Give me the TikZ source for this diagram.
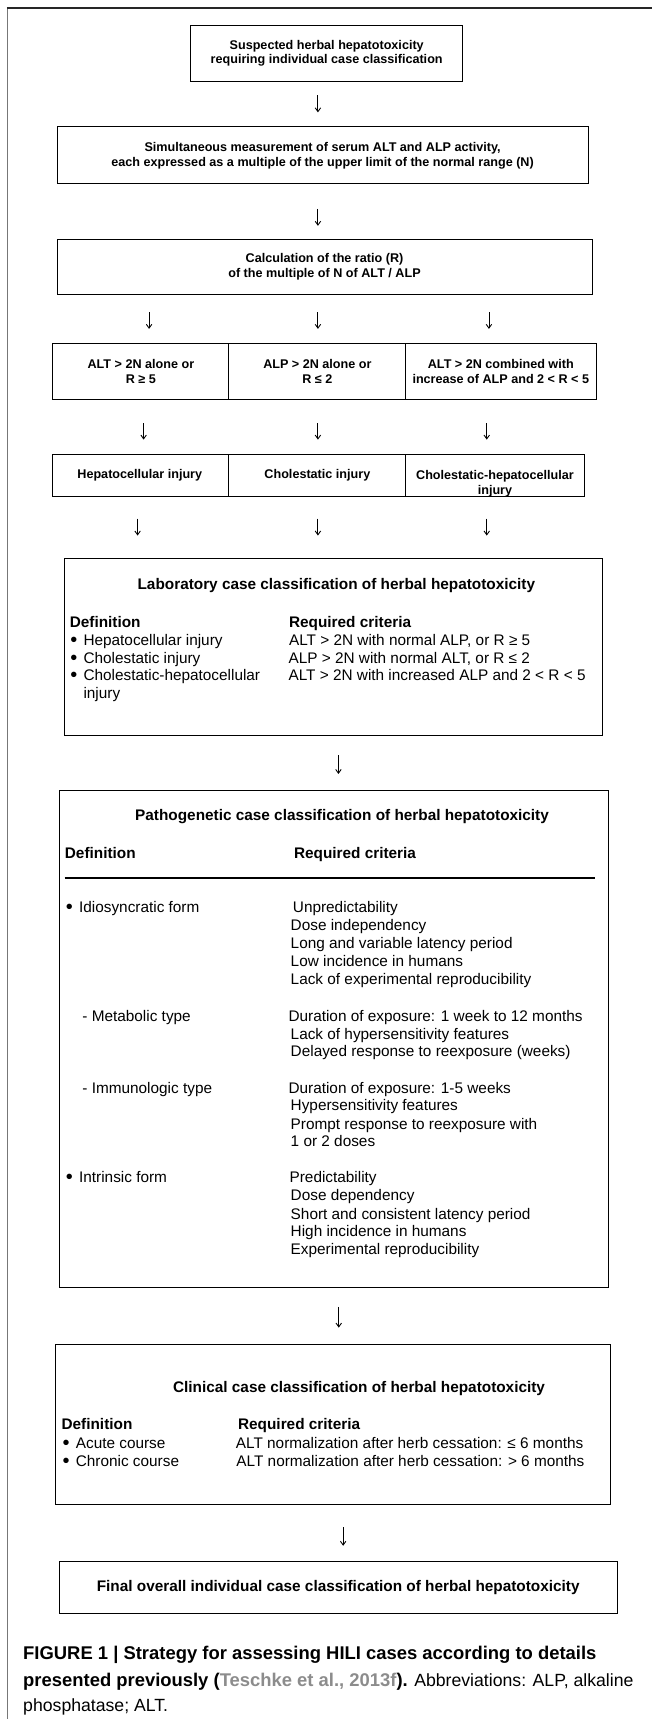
\documentclass[tikz,border=0pt]{standalone}
\usepackage{fontspec}
\setmainfont{Liberation Sans}
\usetikzlibrary{arrows.meta}
\definecolor{framegray}{HTML}{777777}
\definecolor{citegray}{HTML}{8C8C8C}
\tikzset{
  box/.style={draw=black, line width=0.9pt, inner sep=0pt},
  smalltxt/.style={font=\bfseries\fontsize{11.5}{13.4}\selectfont, align=center, inner sep=0pt},
  headtxt/.style={font=\bfseries\fontsize{14}{16}\selectfont, inner sep=0pt},
  bodytxt/.style={font=\fontsize{14}{16}\selectfont, inner sep=0pt, anchor=base west},
  colhead/.style={font=\bfseries\fontsize{14}{16}\selectfont, inner sep=0pt, anchor=base west},
  flow/.style={line width=0.8pt, -{Straight Barb[length=3.5pt,width=5pt,line width=0.8pt]}},
  captxt/.style={inner sep=0pt, anchor=base west}
}
\newcommand{\bul}{\makebox[12pt][l]{\raisebox{-0.9pt}{\scalebox{1.3}{•}}}}
\begin{document}
\begin{tikzpicture}[x=1pt,y=-1pt]
\useasboundingbox (0,0) rectangle (595,1568);
% frame
\draw[framegray, line width=1.4pt] (6.8,7.3) -- (6.8,1568);
\draw[black!85, line width=1.2pt] (6.2,7.3) -- (595,7.3);

% box 1
\node[box, minimum width=248pt, minimum height=51pt] (b1) at (298,48.5) {};
\node[smalltxt] (t1) at (b1.center) {Suspected herbal hepatotoxicity\\requiring individual case classification};
% box 2
\node[box, minimum width=484.5pt, minimum height=52pt] (b2) at (294.25,141) {};
\node[smalltxt] (t2) at (294.25,142) {Simultaneous measurement of serum ALT and ALP activity,\\each expressed as a multiple of the upper limit of the normal range (N)};
% box 3
\node[box, minimum width=488pt, minimum height=51pt] (b3) at (296,243.5) {};
\node[smalltxt] (t3) at (b3.center) {Calculation of the ratio (R)\\of the multiple of N of ALT / ALP};

% row 4
\node[box, minimum width=161.2pt, minimum height=51pt] (c1) at (128.1,338.5) {};
\node[box, minimum width=161.3pt, minimum height=51pt] (c2) at (289.35,338.5) {};
\node[box, minimum width=173.7pt, minimum height=51pt] (c3) at (456.85,338.5) {};
\node[smalltxt] (c1t) at (128.5,339) {ALT > 2N alone or\\R ≥ 5};
\node[smalltxt] (c2t) at (289.5,339) {ALP > 2N alone or\\R ≤ 2};
\node[smalltxt] (c3t) at (456.8,339) {ALT > 2N combined with\\increase of ALP and 2 < R < 5};

% row 5
\node[box, minimum width=161.2pt, minimum height=38pt] (d1) at (128.1,433.5) {};
\node[box, minimum width=161.3pt, minimum height=38pt] (d2) at (289.35,433.5) {};
\node[box, minimum width=163pt, minimum height=38pt] (d3) at (451.5,433.5) {};
\node[smalltxt] (d1t) at (127.5,433.5) {Hepatocellular injury};
\node[smalltxt] (d2t) at (289.5,433.5) {Cholestatic injury};
\node[smalltxt, anchor=base] (d3t) at (451.5,437.3) {Cholestatic-hepatocellular};
\node[smalltxt, anchor=base] (d3u) at (451.5,450.7) {injury};

% arrows
\coordinate (a1s) at (290,87);   \coordinate (a1e) at (290,102.5);
\coordinate (a2s) at (290,190.5); \coordinate (a2e) at (290,206);
\coordinate (a3as) at (136,285); \coordinate (a3ae) at (136,300);
\coordinate (a3bs) at (290,285); \coordinate (a3be) at (290,300);
\coordinate (a3cs) at (446,285); \coordinate (a3ce) at (446,300);
\coordinate (a4as) at (131,386); \coordinate (a4ae) at (131,401);
\coordinate (a4bs) at (290,386); \coordinate (a4be) at (290,401);
\coordinate (a4cs) at (444,386); \coordinate (a4ce) at (444,401);
\coordinate (a5as) at (125.5,473); \coordinate (a5ae) at (125.5,488.5);
\coordinate (a5bs) at (290,473); \coordinate (a5be) at (290,488.5);
\coordinate (a5cs) at (444,473); \coordinate (a5ce) at (444,488.5);
\coordinate (a6s) at (308.7,689); \coordinate (a6e) at (308.7,706);
\coordinate (a7s) at (309,1192); \coordinate (a7e) at (309,1211);
\coordinate (a8s) at (313,1393); \coordinate (a8e) at (313,1410);
\foreach \a in {a1,a2,a3a,a3b,a3c,a4a,a4b,a4c,a5a,a5b,a5c,a6,a7,a8}
  \draw[flow] (\a s) -- (\a e);

% laboratory box
\node[box, minimum width=491pt, minimum height=162pt] (lab) at (304.5,590) {};
\node[headtxt] (labt) at (306.8,534) {Laboratory case classification of herbal hepatotoxicity};
\node[colhead] (labd) at (63.5,572) {Definition};
\node[colhead] (labr) at (263.5,572) {Required criteria};
\node[bodytxt] (l1) at (64,589) {\bul Hepatocellular injury};
\node[bodytxt] (l2) at (64,605) {\bul Cholestatic injury};
\node[bodytxt] (l3) at (64,621) {\bul Cholestatic-hepatocellular};
\node[bodytxt] (l4) at (76,637) {injury};
\node[bodytxt] (r1) at (263.5,589) {ALT > 2N with normal ALP, or R ≥ 5};
\node[bodytxt] (r2) at (263,605) {ALP > 2N with normal ALT, or R ≤ 2};
\node[bodytxt] (r3) at (263,621) {ALT > 2N with increased ALP and 2 < R < 5};

% pathogenetic box
\node[box, minimum width=500.6pt, minimum height=453.5pt] (pat) at (304.7,947.75) {};
\node[headtxt] (patt) at (312,744.5) {Pathogenetic case classification of herbal hepatotoxicity};
\node[colhead] (patd) at (59,783) {Definition};
\node[colhead] (patr) at (268,783) {Required criteria};
\coordinate (rulel) at (59,801);
\coordinate (ruler) at (543,801);
\draw[line width=1.8pt] (rulel) -- (ruler);
\node[bodytxt] (p1) at (60,832) {\bul Idiosyncratic form};
\node[bodytxt] (p1a) at (267,832) {Unpredictability};
\node[bodytxt] (p1b) at (265,848.5) {Dose independency};
\node[bodytxt] (p1c) at (265,865.5) {Long and variable latency period};
\node[bodytxt] (p1d) at (265,882) {Low incidence in humans};
\node[bodytxt] (p1e) at (265,898) {Lack of experimental reproducibility};
\node[bodytxt] (p2) at (75,931.4) {- Metabolic type};
\node[bodytxt] (p2a) at (263,931.4) {Duration of exposure: 1 week to 12 months};
\node[bodytxt] (p2b) at (265,948) {Lack of hypersensitivity features};
\node[bodytxt] (p2c) at (265,964) {Delayed response to reexposure (weeks)};
\node[bodytxt] (p3) at (75,997) {- Immunologic type};
\node[bodytxt] (p3a) at (263,997) {Duration of exposure: 1-5 weeks};
\node[bodytxt] (p3b) at (265,1013) {Hypersensitivity features};
\node[bodytxt] (p3c) at (265,1030) {Prompt response to reexposure with};
\node[bodytxt] (p3d) at (265,1046) {1 or 2 doses};
\node[bodytxt] (p4) at (60,1079) {\bul Intrinsic form};
\node[bodytxt] (p4a) at (264,1079) {Predictability};
\node[bodytxt] (p4b) at (265,1095) {Dose dependency};
\node[bodytxt] (p4c) at (265,1112) {Short and consistent latency period};
\node[bodytxt] (p4d) at (265,1128) {High incidence in humans};
\node[bodytxt] (p4e) at (265,1144) {Experimental reproducibility};

% clinical box
\node[box, minimum width=506pt, minimum height=146pt] (cli) at (304,1299.5) {};
\node[headtxt] (clit) at (327.5,1267) {Clinical case classification of herbal hepatotoxicity};
\node[colhead] (clid) at (56,1304) {Definition};
\node[colhead] (clir) at (217,1304) {Required criteria};
\node[bodytxt] (k1) at (57,1321) {\bul Acute course};
\node[bodytxt] (k2) at (57,1337.6) {\bul Chronic course};
\node[bodytxt] (k1r) at (215,1321) {ALT normalization after herb cessation: ≤ 6 months};
\node[bodytxt] (k2r) at (215.5,1337.6) {ALT normalization after herb cessation: > 6 months};

% final box
\node[box, minimum width=509pt, minimum height=47.6pt] (fin) at (308.5,1447.8) {};
\node[headtxt] (fint) at (308.5,1448) {Final overall individual case classification of herbal hepatotoxicity};

% caption
\node[captxt, font=\bfseries\fontsize{16.8}{20}\selectfont] (cap1) at (21,1514) {FIGURE 1 | Strategy for assessing HILI cases according to details};
\node[captxt] (cap2) at (21,1538) {\fontsize{16.8}{20}\selectfont\bfseries presented previously (\textcolor{citegray}{Teschke et al., 2013f}).\fontsize{16.1}{20}\selectfont\mdseries{} Abbreviations: ALP, alkaline};
\node[captxt, font=\fontsize{16.1}{20}\selectfont] (cap3) at (21,1561) {phosphatase; ALT.};
\end{tikzpicture}
\end{document}
